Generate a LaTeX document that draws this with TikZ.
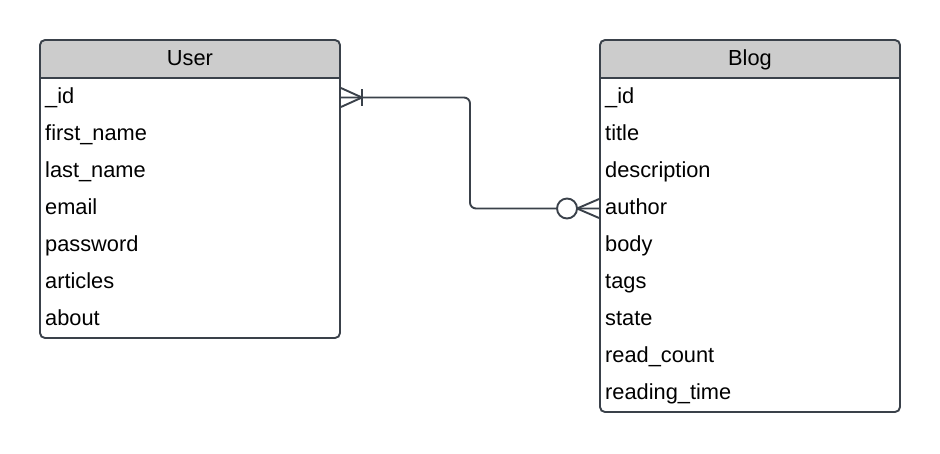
\documentclass[tikz,border=0pt]{standalone}
\usepackage{fontspec}
\setmainfont{Liberation Sans}
\usetikzlibrary{calc}
\definecolor{edgec}{HTML}{3A414A}
\definecolor{hdrc}{HTML}{CCCCCC}
\begin{document}
\begin{tikzpicture}[x=1pt,y=-1pt,
  tblbox/.style={draw=edgec,line width=1.9pt,rounded corners=5pt,inner sep=0pt},
  hdrfill/.style={fill=hdrc},
  field/.style={anchor=west,inner sep=0pt,text height=16pt,text depth=1pt,font=\fontsize{21.8}{26}\selectfont},
  ttl/.style={inner sep=0pt,text height=16pt,text depth=1pt,font=\fontsize{21.8}{26}\selectfont},
  conn/.style={draw=edgec,line width=1.9pt},
  sepline/.style={draw=edgec,line width=1.9pt}]
\useasboundingbox (0,0) rectangle (940,453);
% User table
\fill[hdrfill] (40,78) {[rounded corners=5pt] -- (40,40) -- (340,40)} -- (340,78) -- cycle;
\node[tblbox,minimum width=300pt,minimum height=298pt] (user) at (190,189) {};
\draw[sepline] (user.west |- 0,78) -- (user.east |- 0,78);
\node[ttl] (usert) at (190,57.5) {User};
\foreach \t [count=\i from 0] in {\_id,first\_name,last\_name,email,password,articles,about}
  \node[field] (u\i) at (45,96+37*\i) {\t};
% Blog table
\fill[hdrfill] (600,78) {[rounded corners=5pt] -- (600,40) -- (900,40)} -- (900,78) -- cycle;
\node[tblbox,minimum width=300pt,minimum height=372pt] (blog) at (750,226) {};
\draw[sepline] (blog.west |- 0,78) -- (blog.east |- 0,78);
\node[ttl] (blogt) at (750,57.5) {Blog};
\foreach \t [count=\i from 0] in {\_id,title,description,author,body,tags,state,read\_count,reading\_time}
  \node[field] (b\i) at (605,96+37*\i) {\t};
% connector
\coordinate (ua) at ($(user.east |- u0)+(0,1.5)$);
\coordinate (bb) at ($(blog.west |- b3)+(0,1.5)$);
\draw[conn,rounded corners=6pt] (ua) -| ($(ua)!0.5!(bb)$) |- (bb);
\draw[conn] ($(ua)+(0,-9.5)$) -- ($(ua)+(21,0)$) -- ($(ua)+(0,9.5)$);
\draw[conn] ($(ua)+(21,-8.5)$) -- ($(ua)+(21,8.5)$);
\draw[conn] ($(bb)+(0,-9.5)$) -- ($(bb)+(-22,0)$) -- ($(bb)+(0,9.5)$);
\draw[conn,fill=white] ($(bb)+(-32,0)$) circle (10pt);
\end{tikzpicture}
\end{document}
